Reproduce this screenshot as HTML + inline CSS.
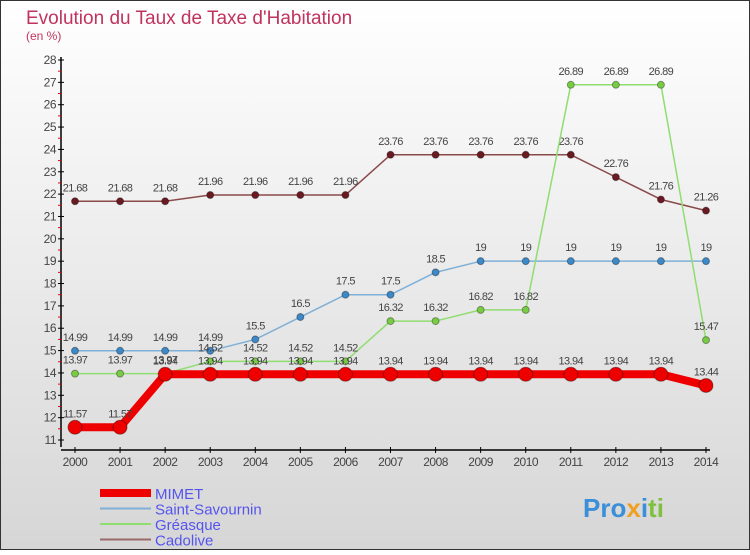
<!DOCTYPE html>
<html><head><meta charset="utf-8"><style>
html,body{margin:0;padding:0}
body{width:750px;height:550px;overflow:hidden;font-family:"Liberation Sans",sans-serif}
</style></head><body>
<svg width="750" height="550" xmlns="http://www.w3.org/2000/svg">
<defs><linearGradient id="bg" x1="0" y1="0" x2="0" y2="1"><stop offset="0" stop-color="#ffffff"/><stop offset="1" stop-color="#d6d6d6"/></linearGradient></defs>
<rect x="0.5" y="0.5" width="749" height="549" fill="url(#bg)" stroke="#333"/>
<text x="26" y="24" font-size="19" fill="#c0335f">Evolution du Taux de Taxe d'Habitation</text>
<text x="26" y="40" font-size="12" fill="#c0335f">(en %)</text>
<g id="axes"></g>
<g id="series"></g>
<g id="legend"></g>
<text x="583" y="517" font-size="26" font-weight="bold" fill="#3a8fd8">Pro<tspan fill="#f0a020">x</tspan><tspan fill="#3a8fd8">i</tspan><tspan fill="#80c040">ti</tspan></text>
</svg>
<script>
const years=[2000,2001,2002,2003,2004,2005,2006,2007,2008,2009,2010,2011,2012,2013,2014];
const mimet=[11.57,11.57,13.94,13.94,13.94,13.94,13.94,13.94,13.94,13.94,13.94,13.94,13.94,13.94,13.44];
const saint=[14.99,14.99,14.99,14.99,15.5,16.5,17.5,17.5,18.5,19,19,19,19,19,19];
const greasque=[13.97,13.97,13.97,14.52,14.52,14.52,14.52,16.32,16.32,16.82,16.82,26.89,26.89,26.89,15.47];
const cadolive=[21.68,21.68,21.68,21.96,21.96,21.96,21.96,23.76,23.76,23.76,23.76,23.76,22.76,21.76,21.26];
const yTicks=[11,12,13,14,15,16,17,18,19,20,21,22,23,24,25,26,27,28];
const NS="http://www.w3.org/2000/svg";
const X=i=>75+i*(706-75)/14;
const Y=v=>440-(v-11)*(380/17);
function mk(tag,attrs,parent,txt){const e=document.createElementNS(NS,tag);for(const k in attrs)e.setAttribute(k,attrs[k]);if(txt!==undefined)e.textContent=txt;parent.appendChild(e);return e;}
const ax=document.getElementById('axes');
let l=mk('line',{x1:61,y1:57,x2:61,y2:447,stroke:'#000','stroke-width':1.5},ax);


l=mk('line',{x1:61,y1:450,x2:710,y2:450,stroke:'#000','stroke-width':1.5},ax);


yTicks.forEach(v=>{
  mk('line',{x1:58,x2:64,y1:Y(v),y2:Y(v),stroke:'#000'},ax);
  if(v<28)mk('line',{x1:58,x2:61,y1:Y(v+0.5),y2:Y(v+0.5),stroke:'#e00'},ax);
  const t=mk('text',{x:56,y:Y(v)+4,'font-size':12,'text-anchor':'end',fill:'#444','letter-spacing':'-0.5'},ax,v);
  
  
});
years.forEach((yr,i)=>{
  mk('line',{x1:X(i),x2:X(i),y1:447,y2:453,stroke:'#000'},ax);
  const t=mk('text',{x:X(i),y:466,'font-size':12,'text-anchor':'middle',fill:'#444','letter-spacing':'-0.5'},ax,yr);
  
  
});
const sg=document.getElementById('series');
function draw(data,color,dot,width,r,name){
  const g=mk('g',{},sg);
  
  
  const p=mk('polyline',{points:data.map((v,i)=>X(i)+','+Y(v)).join(' '),fill:'none',stroke:color,'stroke-width':width,'stroke-linejoin':'round'},g);
  
  
  data.forEach((v,i)=>{
    const c=mk('circle',{cx:X(i),cy:Y(v),r:r,fill:dot,stroke:'rgba(0,0,0,0.35)','stroke-width':1},g);
    
    
    const t=mk('text',{x:X(i),y:Y(v)-10,'font-size':11,'text-anchor':'middle',fill:'#444','letter-spacing':'-0.6'},g,v);
    
    
  });
}
draw(cadolive,'#8b4a4a','#6b1a22',1.5,3.5,'cadolive');
draw(saint,'#7fb0d8','#3d88c8',1.5,3.5,'saint-savournin');
draw(greasque,'#90dd70','#78cc44',1.5,3.5,'greasque');
draw(mimet,'#ee0000','#ee0000',8,7,'mimet');
const lg=document.getElementById('legend');
const leg=[['MIMET','#ee0000',8],['Saint-Savournin','#7fb0d8',2],['Gréasque','#90dd70',2],['Cadolive','#9a6a6a',2]];
leg.forEach((e,i)=>{
  const y=493+i*15.5;
  const g=mk('g',{},lg);
  
  
  mk('line',{x1:100,x2:151,y1:y,y2:y,stroke:e[1],'stroke-width':e[2]},g);
  mk('text',{x:155,y:y+6,'font-size':15,fill:'#5555ee'},g,e[0]);
});
</script>
</body></html>
